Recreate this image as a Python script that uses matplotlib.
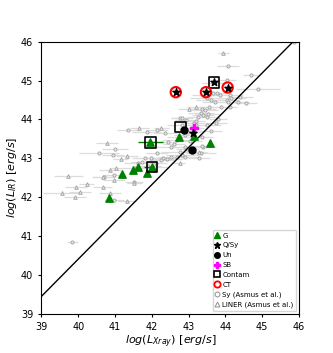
import numpy as np
import matplotlib
matplotlib.use('Agg')
import matplotlib.pyplot as plt
from matplotlib.lines import Line2D

# Asmus et al. Seyferts
sy_x = [39.84, 40.57, 40.95, 41.00, 40.98, 41.36, 41.52, 41.86, 42.13, 42.37, 42.44, 42.51,
        42.60, 42.76, 42.76, 42.83, 42.81, 42.94, 43.08, 43.14, 43.21, 43.26, 43.33, 43.35,
        43.40, 43.44, 43.51, 43.56, 43.60, 43.50, 43.44, 43.67, 43.76, 43.85, 43.71, 43.87,
        44.03, 44.07, 44.12, 44.12, 44.16, 44.34, 44.39, 44.57, 44.69, 44.89, 44.07, 44.03,
        43.67, 43.53, 43.35, 43.49, 43.74, 43.40, 43.33, 43.27, 43.36, 42.90, 42.83, 42.90,
        42.76, 42.67, 42.51, 42.40, 42.31, 42.26, 42.13, 41.97, 41.81, 41.72, 41.63, 41.90,
        42.10, 41.52, 42.08, 40.97, 40.71, 42.99, 42.90, 42.67, 43.05, 43.20, 42.95, 43.60,
        43.80, 45.85]
sy_y = [40.84, 43.14, 43.08, 43.23, 41.93, 43.73, 42.40, 43.68, 43.73, 43.66, 43.43, 43.30,
        43.38, 43.55, 44.03, 44.03, 43.86, 43.98, 43.77, 43.90, 43.86, 44.05, 44.17, 44.28,
        44.11, 44.24, 44.07, 44.31, 44.50, 44.54, 44.63, 44.67, 44.67, 44.64, 44.46, 44.33,
        44.50, 44.46, 44.63, 44.33, 44.54, 44.46, 44.58, 44.41, 45.13, 44.78, 45.38, 45.01,
        44.93, 44.15, 43.55, 43.86, 43.90, 43.30, 43.13, 43.02, 43.32, 43.30, 43.08, 43.04,
        43.17, 43.04, 43.04, 42.97, 43.02, 42.95, 43.13, 43.00, 43.00, 42.91, 42.87, 42.80,
        42.89, 42.74, 42.78, 42.57, 42.53, 43.68, 43.60, 43.47, 43.45, 43.95, 43.25, 43.70,
        44.00, 46.00]
sy_xerr = [0.15, 0.55, 0.30, 0.35, 0.25, 0.30, 0.25, 0.40, 0.30, 0.30, 0.25, 0.40,
           0.30, 0.35, 0.25, 0.30, 0.40, 0.30, 0.35, 0.30, 0.40, 0.30, 0.35, 0.40,
           0.30, 0.35, 0.30, 0.25, 0.40, 0.45, 0.35, 0.30, 0.25, 0.30, 0.35, 0.30,
           0.30, 0.25, 0.35, 0.20, 0.40, 0.30, 0.35, 0.30, 0.20, 0.60, 0.30, 0.25,
           0.30, 0.35, 0.30, 0.40, 0.30, 0.35, 0.40, 0.30, 0.35, 0.40, 0.45, 0.35,
           0.50, 0.40, 0.35, 0.45, 0.40, 0.35, 0.30, 0.40, 0.35, 0.30, 0.40, 0.35,
           0.30, 0.30, 0.35, 0.30, 0.30, 0.35, 0.30, 0.40, 0.30, 0.25, 0.30, 0.30,
           0.25, 0.20]

# Asmus et al. LINERs
li_x = [43.94, 40.77, 39.73, 39.55, 39.94, 40.05, 39.90, 40.23, 40.68, 40.66, 40.86, 40.97,
        41.03, 41.15, 41.33, 41.66, 42.26, 43.02, 43.21, 42.76, 41.52, 41.33, 40.86, 43.29]
li_y = [45.70, 43.40, 42.54, 42.12, 42.25, 42.14, 42.01, 42.35, 42.53, 42.25, 42.70, 42.44,
        42.74, 42.97, 43.07, 43.79, 43.77, 44.26, 44.33, 42.87, 42.37, 41.89, 42.10, 43.17]
li_xerr = [0.15, 0.30, 0.40, 0.50, 0.30, 0.30, 0.30, 0.20, 0.30, 0.25, 0.30, 0.30,
           0.20, 0.20, 0.30, 0.25, 0.20, 0.30, 0.25, 0.15, 0.20, 0.25, 0.30, 0.20]

# this sample
g_x = [40.84, 41.19, 41.50, 41.61, 41.87, 42.00, 41.95, 42.74, 43.14, 43.58]
g_y = [41.99, 42.59, 42.71, 42.78, 42.62, 42.78, 43.41, 43.54, 43.57, 43.40]
q_x = [42.65, 43.47, 44.06, 43.11, 43.68]
q_y = [44.70, 44.70, 44.82, 43.64, 44.95]
un_x = [42.87, 43.09]
un_y = [43.74, 43.22]
sb_x = [43.15]
sb_y = [43.77]
contam_x = [41.96, 42.00, 42.78, 43.68]
contam_y = [43.41, 42.78, 43.81, 44.95]
ct_x = [42.65, 43.47, 44.06]
ct_y = [44.70, 44.70, 44.82]

fig = plt.figure(figsize=(3.33, 3.53), dpi=100)
ax = fig.add_axes([0.1246, 0.111, 0.7734, 0.771])

grey = '#dcdcdc'
ax.errorbar(sy_x, sy_y, xerr=sy_xerr, yerr=0.03, fmt='o', ms=2.3, mfc='#e6e6e6', mec='#a0a0a0',
            mew=0.6, ecolor=grey, elinewidth=0.9, capsize=0, zorder=2)
ax.errorbar(li_x, li_y, xerr=li_xerr, yerr=0.03, fmt='^', ms=2.6, mfc='#e6e6e6', mec='#a0a0a0',
            mew=0.6, ecolor=grey, elinewidth=0.9, capsize=0, zorder=2)

xl = np.array([39, 46])
ax.plot(xl, 0.9576 * (xl - 39) + 39.45, color='black', lw=1, zorder=3)

ax.errorbar([41.96], [43.41], xerr=0.35, fmt='none', ecolor='green', elinewidth=1, zorder=4)
ax.errorbar([41.90], [42.78], xerr=0.12, fmt='none', ecolor='green', elinewidth=1, zorder=4)
ax.scatter(g_x, g_y, marker='^', s=28, color='green', zorder=5)
ax.scatter(q_x, q_y, marker='*', s=30, color='black', zorder=6)
ax.scatter(un_x, un_y, marker='o', s=25, color='black', zorder=5)
ax.scatter(sb_x, sb_y, marker='P', s=35, color='magenta', zorder=5)
ax.scatter(contam_x, contam_y, marker='s', s=55, facecolor='none', edgecolor='black', lw=1.2,
           zorder=5)
ax.scatter(ct_x, ct_y, marker='o', s=55, facecolor='none', edgecolor='red', lw=1.5, zorder=5)

ax.set_xlim(39, 46)
ax.set_ylim(39, 46)
ax.tick_params(labelsize=7, length=2.5)
ax.set_xlabel(r'$log(L_{Xray})\ [erg/s]$', fontsize=8, labelpad=1)
ax.set_ylabel(r'$log(L_{IR})\ [erg/s]$', fontsize=8, labelpad=1)

handles = [
    Line2D([], [], ls='none', marker='^', ms=4, color='green'),
    Line2D([], [], ls='none', marker='*', ms=4.5, color='black'),
    Line2D([], [], ls='none', marker='o', ms=4, color='black'),
    Line2D([], [], ls='none', marker='P', ms=4.5, color='magenta'),
    Line2D([], [], ls='none', marker='s', ms=4.5, mfc='none', mec='black', mew=1.2),
    Line2D([], [], ls='none', marker='o', ms=4.5, mfc='none', mec='red', mew=1.3),
    Line2D([], [], ls='none', marker='o', ms=3.5, mfc='none', mec='#909090', mew=0.7),
    Line2D([], [], ls='none', marker='^', ms=3.5, mfc='none', mec='#909090', mew=0.7),
]
labels = ['G', 'Q/Sy', 'Un', 'SB', 'Contam', 'CT', 'Sy (Asmus et al.)', 'LINER (Asmus et al.)']
ax.legend(handles, labels, loc='lower right', fontsize=5, handlelength=0.6,
          handletextpad=0.4, borderpad=0.4, labelspacing=0.55, borderaxespad=0.4)

fig.savefig('out.png', dpi=100)
